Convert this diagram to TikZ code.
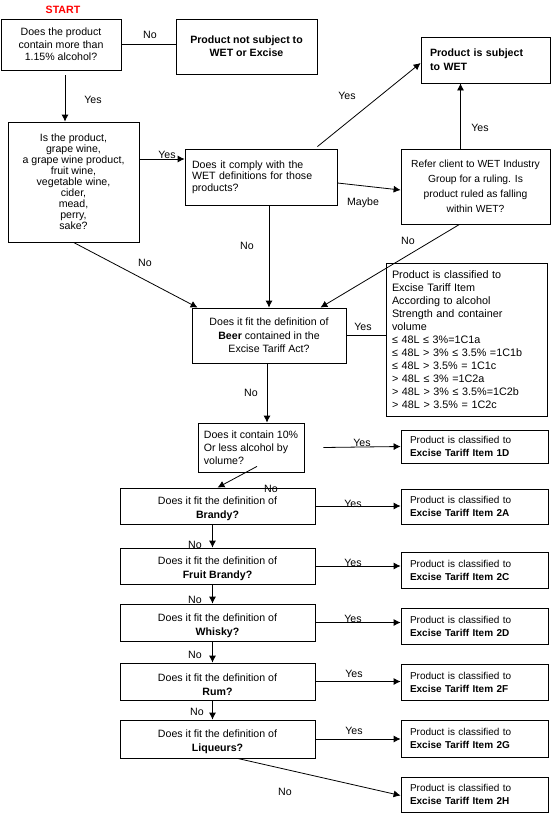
\documentclass[tikz,border=0pt]{standalone}
\usepackage{fontspec}
\setmainfont{Liberation Sans}
\usetikzlibrary{arrows.meta}
\begin{document}
\begin{tikzpicture}[x=1pt,y=-1pt,line width=0.8pt,
  box/.style={draw,inner sep=0pt,align=center,font=\fontsize{10.6}{13}\selectfont},
  lbox/.style={box,align=left},
  itembox/.style={lbox,minimum width=147pt,inner xsep=9pt,text width=129pt,font=\fontsize{10}{13}\selectfont},
  spirit/.style={box,minimum width=195pt,text height=27.5pt,font=\fontsize{10.6}{14}\selectfont},
  lbl/.style={inner sep=0pt,font=\fontsize{10.6}{12}\selectfont},
  arr/.style={-{Latex[length=7pt,width=7pt]}}]
\useasboundingbox (0,0) rectangle (551,816);

\node[lbl,text=red,font=\fontsize{10.6}{12}\selectfont\bfseries] (start) at (63,10) {START};

% top of the chart
\node[box,minimum width=120pt,minimum height=51pt,font=\fontsize{10.6}{12.5}\selectfont] (q1) at (61,44.5) {Does the product\\contain more than\\1.15\% alcohol?};
\node[box,minimum width=141pt,minimum height=55pt,font=\fontsize{10.6}{13}\selectfont\bfseries] (notsub) at (246.5,46.5) {Product not subject to\\WET or Excise};
\node[box,minimum width=131pt,minimum height=120pt,font=\fontsize{10.6}{11}\selectfont] (q2) at (73.5,182) {Is the product,\\grape wine,\\a grape wine product,\\fruit wine,\\vegetable wine,\\cider,\\mead,\\perry,\\sake?};
\node[lbox,minimum width=152pt,minimum height=56pt,inner xsep=7pt,text width=138pt,font=\fontsize{10.6}{11.5}\selectfont] (q3) at (261,177) {Does it comply with the\\WET definitions for those\\products?};
\node[lbox,minimum width=129pt,minimum height=46pt,inner xsep=9pt,text width=111pt,font=\fontsize{10.6}{14}\selectfont\bfseries] (subj) at (485.5,60) {Product is subject\\to WET};
\node[box,minimum width=149pt,minimum height=75pt,font=\fontsize{10.3}{15}\selectfont] (refer) at (475.5,186.5) {Refer client to WET Industry\\Group for a ruling.  Is\\product ruled as falling\\within WET?};

% beer
\node[box,minimum width=154pt,minimum height=55pt,font=\fontsize{10.6}{13.5}\selectfont] (beer) at (269,335.5) {Does it fit the definition of\\\textbf{Beer} contained in the\\Excise Tariff Act?};
\node[lbox,minimum width=161pt,minimum height=153pt,inner xsep=6pt,text width=149pt,font=\fontsize{10.8}{13}\selectfont] (tariffC) at (466.5,339.5) {Product is classified to\\Excise Tariff Item\\According to alcohol\\Strength and container\\volume\\≤ 48L ≤ 3\%=1C1a\\≤ 48L > 3\% ≤ 3.5\% =1C1b\\≤ 48L > 3.5\% = 1C1c\\> 48L ≤ 3\% =1C2a\\> 48L > 3\% ≤ 3.5\%=1C2b\\> 48L > 3.5\% = 1C2c};
\node[lbox,minimum width=106pt,minimum height=49pt] (q10) at (251,447.5) {Does it contain 10\%\\Or less alcohol by\\volume?};
\node[itembox,minimum height=33pt] (item1D) at (474.5,446.5) {Product is classified to\\\textbf{Excise Tariff Item 1D}};

% spirits
\node[spirit,minimum height=36pt] (brandy) at (217.5,506) {Does it fit the definition of\\\textbf{Brandy?}};
\node[spirit,minimum height=36pt] (fbrandy) at (217.5,566) {Does it fit the definition of\\\textbf{Fruit Brandy?}};
\node[spirit,minimum height=37pt] (whisky) at (217.5,622.5) {Does it fit the definition of\\\textbf{Whisky?}};
\node[spirit,minimum height=37pt] (rum) at (217.5,681.5) {Does it fit the definition of\\\textbf{Rum?}};
\node[spirit,minimum height=38pt] (liq) at (217.5,739) {Does it fit the definition of\\\textbf{Liqueurs?}};

\node[itembox,minimum height=35pt] (item2A) at (474.5,506.5) {Product is classified to\\\textbf{Excise Tariff Item 2A}};
\node[itembox,minimum height=36pt] (item2C) at (474.5,570) {Product is classified to\\\textbf{Excise Tariff Item 2C}};
\node[itembox,minimum height=36pt] (item2D) at (474.5,626) {Product is classified to\\\textbf{Excise Tariff Item 2D}};
\node[itembox,minimum height=36pt] (item2F) at (474.5,682) {Product is classified to\\\textbf{Excise Tariff Item 2F}};
\node[itembox,minimum height=37pt] (item2G) at (474.5,738.5) {Product is classified to\\\textbf{Excise Tariff Item 2G}};
\node[itembox,minimum height=35pt] (item2H) at (474.5,794.5) {Product is classified to\\\textbf{Excise Tariff Item 2H}};

% connectors
\draw (q1.east) -- (q1.east -| notsub.west);
\draw[arr,shorten <=5pt] ([xshift=4pt]q1.south) -- ([xshift=4pt]q1.south |- q2.north);
\draw[arr] ([yshift=23pt]q2.east) -- ([yshift=18pt]q3.west);
\draw[arr] ([yshift=-6pt]q3.east) -- ([yshift=-3.5pt]refer.west);
\draw[arr] ([xshift=-20pt,yshift=2pt]q3.north east) -- ([yshift=-3pt]subj.west);
\draw[arr] ([xshift=-15pt]refer.north) -- ([xshift=-15pt]refer.north |- subj.south);
\draw[arr] ([xshift=-16pt]refer.south) -- ([xshift=-26pt]beer.north east);
\draw[arr] (q2.south) -- ([xshift=6pt]beer.north west);
\draw[arr] (q3.south -| beer.north) -- (beer.north);
\draw (beer.east) -- (beer.east -| tariffC.west);
\draw[arr] ([xshift=-2pt]beer.south) -- ([xshift=-2pt]beer.south |- q10.north);
\draw[arr] ([xshift=19pt]q10.east) -- (item1D.west);
\draw[arr] ([xshift=6pt,yshift=6pt]q10.south) -- (brandy.north);
\draw[arr] (brandy.east) -- (brandy.east -| item2A.west);
\draw[arr] (fbrandy.east) -- (fbrandy.east -| item2C.west);
\draw[arr] (whisky.east) -- (whisky.east -| item2D.west);
\draw[arr] (rum.east) -- (rum.east -| item2F.west);
\draw[arr] (liq.east) -- (liq.east -| item2G.west);
\draw[arr] ([xshift=-5pt]brandy.south) -- ([xshift=-5pt]fbrandy.north);
\draw[arr] ([xshift=-5pt]fbrandy.south) -- ([xshift=-5pt]whisky.north);
\draw[arr] ([xshift=-5pt]whisky.south) -- ([xshift=-5pt]rum.north);
\draw[arr] ([xshift=-5pt]rum.south) -- ([xshift=-5pt]liq.north);
\draw[arr] ([xshift=20pt]liq.south) -- ([yshift=-1pt]item2H.west);

% labels
\node[lbl] (lno1) at (150,35) {No};
\node[lbl] (lyes1) at (93,100) {Yes};
\node[lbl] (lyes2) at (167,155) {Yes};
\node[lbl] (lyes3) at (347,96) {Yes};
\node[lbl] (lyes4) at (480,128) {Yes};
\node[lbl] (lmaybe) at (363,203) {Maybe};
\node[lbl] (lno2) at (408,241) {No};
\node[lbl] (lno3) at (145,263) {No};
\node[lbl] (lno4) at (247,246) {No};
\node[lbl] (lyes5) at (363,327) {Yes};
\node[lbl] (lno5) at (251,393) {No};
\node[lbl] (lyes6) at (362,443) {Yes};
\node[lbl] (lno6) at (271,489) {No};
\node[lbl] (lyes7) at (353,504) {Yes};
\node[lbl] (lno7) at (195,545) {No};
\node[lbl] (lyes8) at (353,563) {Yes};
\node[lbl] (lno8) at (195,600) {No};
\node[lbl] (lyes9) at (353,619) {Yes};
\node[lbl] (lno9) at (195,655) {No};
\node[lbl] (lyes10) at (354,674) {Yes};
\node[lbl] (lno10) at (197,712) {No};
\node[lbl] (lyes11) at (354,731) {Yes};
\node[lbl] (lno11) at (285,792) {No};
\end{tikzpicture}
\end{document}
